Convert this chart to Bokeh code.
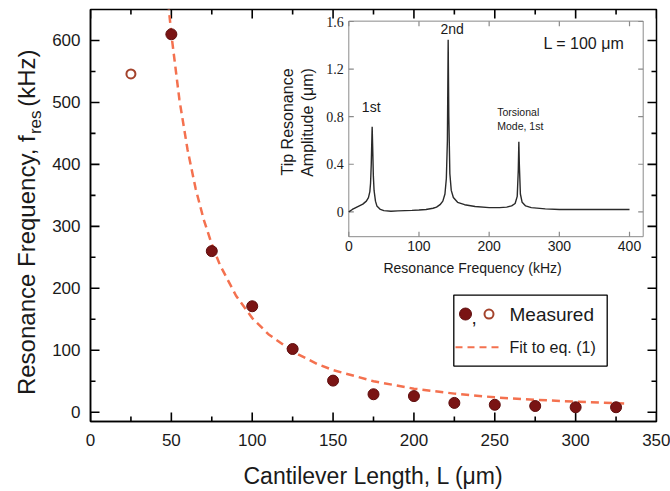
from bokeh.plotting import figure
from bokeh.layouts import row
from bokeh.models import Range1d, SingleIntervalTicker, Label, BoxAnnotation
from bokeh.core.properties import value
from bokeh.embed import file_html
from bokeh.resources import INLINE

# ---------------- main data ----------------
length_open = [25]
freq_open = [546]
length_meas = [50, 75, 100, 125, 150, 175, 200, 225, 250, 275, 300, 325]
freq_meas = [610, 260, 171, 102, 51, 29, 26, 15, 12, 10, 8, 8]
fit_length = [48, 50, 55, 60, 65, 70, 75, 80, 90, 100, 110, 125, 140, 150,
              175, 200, 225, 250, 275, 300, 330]
fit_freq = [662, 610, 504, 424, 361, 311, 271, 238, 188, 152, 126, 98, 78, 68,
            50, 38, 30, 24, 20, 17, 14]
x_major_ticks = [0, 50, 100, 150, 200, 250, 300, 350]
x_minor_ticks = [25, 75, 125, 175, 225, 275, 325]
y_major_ticks = [0, 100, 200, 300, 400, 500, 600]
y_minor_ticks = [50, 150, 250, 350, 450, 550]

# ---------------- inset data ----------------
spec_freq = [0, 5, 10, 15, 20, 25, 28, 30, 31, 32, 33, 33.3, 34, 35, 36, 38, 40,
             45, 50, 60, 70, 80, 90, 100, 110, 120, 125, 130, 134, 137, 139,
             140.5, 141.6, 142.5, 144, 146, 149, 155, 165, 180, 200, 215, 225,
             232, 237, 240, 241.5, 242.3, 243, 244.5, 247, 252, 260, 280, 300,
             330, 360, 400]
spec_amp = [0.0, 0.02, 0.035, 0.05, 0.065, 0.09, 0.12, 0.17, 0.24, 0.40, 0.65,
            0.716, 0.55, 0.30, 0.18, 0.09, 0.05, 0.02, 0.01, 0.005, 0.008, 0.01,
            0.012, 0.015, 0.02, 0.03, 0.04, 0.06, 0.09, 0.15, 0.28, 0.6, 1.447,
            0.8, 0.32, 0.18, 0.12, 0.08, 0.06, 0.045, 0.035, 0.035, 0.04, 0.05,
            0.07, 0.13, 0.35, 0.59, 0.40, 0.15, 0.08, 0.05, 0.035, 0.025, 0.02,
            0.02, 0.02, 0.02]
inset_x_ticks = [0, 100, 200, 300, 400]
inset_x_labels = ["0", "100", "200", "300", "400"]
inset_y_ticks = [0, 0.4, 0.8, 1.2, 1.6]
inset_y_labels = ["0", "0.4", "0.8", "1.2", "1.6"]

# ---------------- layout (page pixels of the reference) ----------------
W, H = 670, 491
LW = 45                      # width of the y-label strip
FRAME_L, FRAME_R, FRAME_T, FRAME_B = 90, 656, 9, 423
X0, X1, Y0, Y1 = 0, 350, -15, 650
IL, IR, IT, IB = 348.3, 642.7, 20.7, 237.3
IX0, IX1, IY0, IY1 = 0, 419.5, -0.209, 1.603
VERT = 1.5708

ux = (X1 - X0) / (FRAME_R - FRAME_L)   # data units per pixel
uy = (Y1 - Y0) / (FRAME_B - FRAME_T)


def mx(px):
    return X0 + (px - FRAME_L) * ux


def my(py):
    return Y1 - (py - FRAME_T) * uy


sx = (IX1 - IX0) / (IR - IL)
sy = (IY1 - IY0) / (IB - IT)
ix_start = IX0 - (IL - FRAME_L) * sx
ix_end = IX0 + (FRAME_R - IL) * sx
iy_end = IY1 + (IT - FRAME_T) * sy
iy_start = IY0 - (FRAME_B - IB) * sy


def ix(px):
    return IX0 + (px - IL) * sx


def iy(py):
    return IY1 - (py - IT) * sy


FONT = "Liberation Sans"
SERIF = "Liberation Serif"
TXT = "#1a1a1a"
DARKRED = "#7a1414"
OPENRED = "#a4432c"
FITCOL = "#f4714f"

# ---------------- y-label strip ----------------
lab = figure(width=LW, height=H, x_range=Range1d(0, LW), y_range=Range1d(H, 0),
             output_backend="svg", toolbar_location=None,
             x_axis_type=None, y_axis_type=None,
             min_border_left=0, min_border_right=0, min_border_top=0, min_border_bottom=0)
lab.outline_line_color = None
lab.grid.visible = False
lab.background_fill_color = "white"
lab.border_fill_color = "white"
lab.text(x=[26], y=[150], text=["Resonance Frequency, f"], angle=VERT,
         text_align="right", text_baseline="middle", text_font=value(FONT),
         text_font_size="24px", text_color=TXT)
lab.text(x=[35], y=[148.5], text=["res"], angle=VERT,
         text_align="left", text_baseline="middle", text_font=value(FONT),
         text_font_size="17px", text_color=TXT)
lab.text(x=[26], y=[116], text=["(kHz)"], angle=VERT,
         text_align="left", text_baseline="middle", text_font=value(FONT),
         text_font_size="24px", text_color=TXT)

# ---------------- main figure ----------------
p = figure(width=W - LW, height=H, x_range=Range1d(X0, X1), y_range=Range1d(Y0, Y1),
           output_backend="svg", toolbar_location=None,
           min_border_left=FRAME_L - LW, min_border_right=W - FRAME_R,
           min_border_top=FRAME_T, min_border_bottom=H - FRAME_B)
p.extra_x_ranges = {"ix": Range1d(ix_start, ix_end)}
p.extra_y_ranges = {"iy": Range1d(iy_start, iy_end)}
p.grid.visible = False
p.outline_line_color = "black"
p.outline_line_width = 1.5
p.background_fill_color = "white"
p.border_fill_color = "white"

p.xaxis.ticker = SingleIntervalTicker(interval=50, num_minor_ticks=2)
p.yaxis.ticker = SingleIntervalTicker(interval=100, num_minor_ticks=2)

for ax in (p.xaxis[0], p.yaxis[0]):
    ax.axis_line_color = "black"
    ax.axis_line_width = 1.5
    ax.major_tick_in = 0
    ax.major_tick_out = 0
    ax.minor_tick_in = 0
    ax.minor_tick_out = 0
    ax.major_tick_line_color = None
    ax.minor_tick_line_color = None
    ax.major_label_text_font = FONT
    ax.major_label_text_font_size = "17px"
    ax.major_label_text_color = TXT

p.xaxis.major_label_standoff = 12
p.yaxis.major_label_standoff = 10
p.xaxis.axis_label = "Cantilever Length, L (\u03bcm)"
p.xaxis.axis_label_text_font = FONT
p.xaxis.axis_label_text_font_size = "23px"
p.xaxis.axis_label_text_font_style = "normal"
p.xaxis.axis_label_text_color = TXT
p.xaxis.axis_label_standoff = 14

# inward tick marks on all four sides, drawn as dash markers
MAJ, MIN = 9, 5
for ticks, ln in ((x_major_ticks, MAJ), (x_minor_ticks, MIN)):
    n = len(ticks)
    p.scatter(ticks * 2, [Y0 + ln / 2 * uy] * n + [Y1 - ln / 2 * uy] * n,
              marker="dash", size=ln, angle=VERT, line_color="black", line_width=1.6)
for ticks, ln in ((y_major_ticks, MAJ), (y_minor_ticks, MIN)):
    n = len(ticks)
    p.scatter([X0 + ln / 2 * ux] * n + [X1 - ln / 2 * ux] * n, ticks * 2,
              marker="dash", size=ln, line_color="black", line_width=1.6)

# fit and data
p.line(fit_length, fit_freq, line_color=FITCOL, line_width=2.5, line_dash="8 5")
p.scatter(length_meas, freq_meas, size=11, fill_color=DARKRED, line_color="#5e0e0e",
          line_width=1)
p.scatter(length_open, freq_open, size=9, fill_color="white", line_color=OPENRED,
          line_width=2)

# legend
p.add_layout(BoxAnnotation(left=mx(453.3), right=mx(606.7), top=my(296), bottom=my(367.3),
                           fill_alpha=0.0, line_color="black", line_alpha=1.0,
                           line_width=1.3))
p.scatter([mx(465)], [my(315)], size=12, fill_color=DARKRED,
          line_color="#5e0e0e", line_width=1)
p.scatter([mx(488.5)], [my(315)], size=9, fill_color="white",
          line_color=OPENRED, line_width=2)
p.add_layout(Label(x=mx(471), y=my(318), text=",", text_font=FONT, text_font_size="19px",
                   text_color=TXT, text_baseline="middle", text_align="left"))
p.add_layout(Label(x=mx(509), y=my(315), text="Measured", text_font=FONT,
                   text_font_size="19px", text_color=TXT, text_baseline="middle",
                   text_align="left"))
p.line([mx(455), mx(498)], [my(348.5), my(348.5)], line_color=FITCOL,
       line_width=2, line_dash="7 5")
p.add_layout(Label(x=mx(509), y=my(348.5), text="Fit to eq. (1)", text_font=FONT,
                   text_font_size="16px", text_color=TXT, text_baseline="middle",
                   text_align="left"))

# ---------------- inset ----------------
IG = "#8a8a8a"
ITK = 5
p.quad(left=[IX0], right=[IX1], bottom=[IY0], top=[IY1], fill_color=None,
       line_color=IG, line_width=1, x_range_name="ix", y_range_name="iy")
p.scatter(inset_x_ticks * 2, [IY0 + ITK / 2 * sy] * 5 + [IY1 - ITK / 2 * sy] * 5,
          marker="dash", size=ITK, angle=VERT, line_color=IG, line_width=1.2,
          x_range_name="ix", y_range_name="iy")
p.scatter([IX0 + ITK / 2 * sx] * 5 + [IX1 - ITK / 2 * sx] * 5, inset_y_ticks * 2,
          marker="dash", size=ITK, line_color=IG, line_width=1.2,
          x_range_name="ix", y_range_name="iy")

p.line(spec_freq, spec_amp, line_color="#2a2a2a", line_width=1.4,
       x_range_name="ix", y_range_name="iy")

p.text(x=inset_x_ticks, y=[IY0] * 5, text=inset_x_labels, y_offset=4,
       text_align="center", text_baseline="top", text_font=value(FONT),
       text_font_size="14px", text_color=TXT, x_range_name="ix", y_range_name="iy")
p.text(x=[IX0] * 5, y=inset_y_ticks, text=inset_y_labels, x_offset=-5,
       text_align="right", text_baseline="middle", text_font=value(SERIF),
       text_font_size="14px", text_color=TXT, x_range_name="ix", y_range_name="iy")

p.text(x=[ix(474)], y=[iy(268.5)], text=["Resonance Frequency  (kHz)"],
       text_align="center", text_baseline="middle", text_font=value(FONT),
       text_font_size="14px", text_color=TXT, x_range_name="ix", y_range_name="iy")
p.text(x=[ix(287), ix(307)], y=[iy(122), iy(122.5)],
       text=["Tip Resonance", "Amplitude (\u03bcm)"], angle=VERT,
       text_align="center", text_baseline="middle", text_font=value(FONT),
       text_font_size="16px", text_color=TXT, x_range_name="ix", y_range_name="iy")
p.text(x=[ix(370.7), ix(451.7)], y=[iy(107), iy(29)], text=["1st", "2nd"],
       text_align="center", text_baseline="middle", text_font=value(FONT),
       text_font_size="14px", text_color=TXT, x_range_name="ix", y_range_name="iy")
p.text(x=[ix(496.7), ix(496.7)], y=[iy(112), iy(126)], text=["Torsional", "Mode, 1st"],
       text_align="left", text_baseline="middle", text_font=value(FONT),
       text_font_size="10.5px", text_color=TXT, x_range_name="ix", y_range_name="iy")
p.text(x=[ix(543)], y=[iy(43)], text=["L = 100 \u03bcm"],
       text_align="left", text_baseline="middle", text_font=value(FONT),
       text_font_size="16px", text_color=TXT, x_range_name="ix", y_range_name="iy")

layout = row(lab, p, spacing=0)
open("out.html", "w").write(file_html(layout, INLINE))
